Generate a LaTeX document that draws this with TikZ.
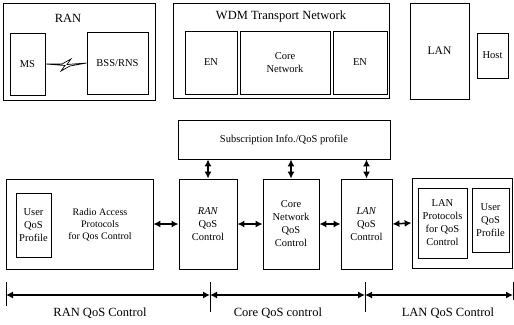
\documentclass[tikz,border=0pt]{standalone}
\usepackage{fontspec}
\setmainfont{Liberation Serif}
\usetikzlibrary{arrows.meta}

\begin{document}
\begin{tikzpicture}[x=1pt, y=-1pt,
      bx/.style={draw, line width=0.8pt, inner sep=1pt, align=center,
        font=\fontsize{10.5}{13}\selectfont},
      wh/.style 2 args={minimum width=#1pt, minimum height=#2pt},
      ttl/.style={font=\fontsize{12.5}{15}\selectfont},
      dar/.style={{Latex[length=7pt,width=7pt]}-{Latex[length=7pt,width=7pt]}, line width=1.5pt}]
    \useasboundingbox (0,0) rectangle (514,324);
    % top row: networks
    \node[bx, wh={152}{97}] (ran) at (79,51.5) {};
    \node[ttl] (rant) at (68,18) {RAN};
    \node[bx, wh={35}{62}] (ms) at (27.5,64) {MS};
    \node[bx, wh={61}{62}] (bss) at (117.5,63) {BSS/RNS};
    % radio link
    \draw[line width=0.7pt, line join=miter, fill=white]
      (ms.east) -- (62,64) -- (71,59) -- (67,64.5) -- (bss.west)
      -- (70,66) -- (61,71) -- (65,65.5) -- cycle;
    \node[bx, wh={216}{95}] (wdm) at (281,50.5) {};
    \node[ttl] (wdmt) at (281,16) {WDM Transport Network};
    \node[bx, wh={52}{63}] (en1) at (211,62.5) {EN};
    \node[bx, wh={90}{63}] (core) at (285,62.5) {Core\\Network};
    \node[bx, wh={54}{63}] (en2) at (360,62.5) {EN};
    \node[bx, wh={59}{96}, font=\fontsize{11.5}{13}\selectfont] (lan) at (439.5,51) {LAN};
    \node[bx, wh={31}{45}] (host) at (492.5,55.5) {Host};
    % bottom row: QoS control
    \node[bx, wh={212}{39}] (subs) at (284,139.5) {Subscription Info./QoS profile};
    \node[bx, wh={147}{90}] (rap) at (79.5,224) {};
    \node[bx, wh={35}{64}] (uqp1) at (33.5,225) {User\\QoS\\Profile};
    \node[align=center, font=\fontsize{10}{12}\selectfont] (rapt) at (100,225)
      {Radio Access\\Protocols\\for Qos Control};
    \node[bx, wh={58}{90}] (ranqos) at (208,224) {\textit{RAN}\\QoS\\Control};
    \node[bx, wh={56}{90}] (coreqos) at (291,224) {Core\\Network\\QoS\\Control};
    \node[bx, wh={51}{90}] (lanqos) at (366.5,224) {\textit{LAN}\\QoS\\Control};
    \node[bx, wh={100}{90}] (lanp) at (462,223) {};
    \node[bx, wh={49}{70}] (lanproto) at (442.5,223) {LAN\\Protocols\\for QoS\\Control};
    \node[bx, wh={37}{64}] (uqp2) at (490.5,220) {User\\QoS\\Profile};
    % connectors
    \foreach \n in {ranqos,coreqos,lanqos}
      \draw[dar] (subs.south -| \n.north) -- (\n.north);
    \draw[dar] (rap.east) -- (ranqos.west);
    \draw[dar] (ranqos.east) -- (coreqos.west);
    \draw[dar] (coreqos.east) -- (lanqos.west);
    \draw[dar] (lanqos.east) -- (lanp.west);
    % QoS domains
    \coordinate (d0) at (6,295);
    \coordinate (d1) at (210,295);
    \coordinate (d2) at (365,295);
    \coordinate (d3) at (513,295);
    \draw[line width=0.9pt] (6,282) -- (6,306);
    \draw[line width=0.9pt] (210,282) -- (210,312);
    \draw[line width=0.9pt] (365,282) -- (365,312);
    \draw[line width=0.9pt] (513,282) -- (513,300);
    \draw[dar, line width=1.2pt] (d0) -- (d1);
    \draw[dar, line width=1.2pt] (d1) -- (d2);
    \draw[dar, line width=1.2pt] (d2) -- (d3);
    \node[ttl] (ranlbl) at (100,313) {RAN QoS Control};
    \node[ttl] (corelbl) at (278,313) {Core QoS control};
    \node[ttl] (lanlbl) at (448,313) {LAN QoS Control};
  \end{tikzpicture}
\end{document}
